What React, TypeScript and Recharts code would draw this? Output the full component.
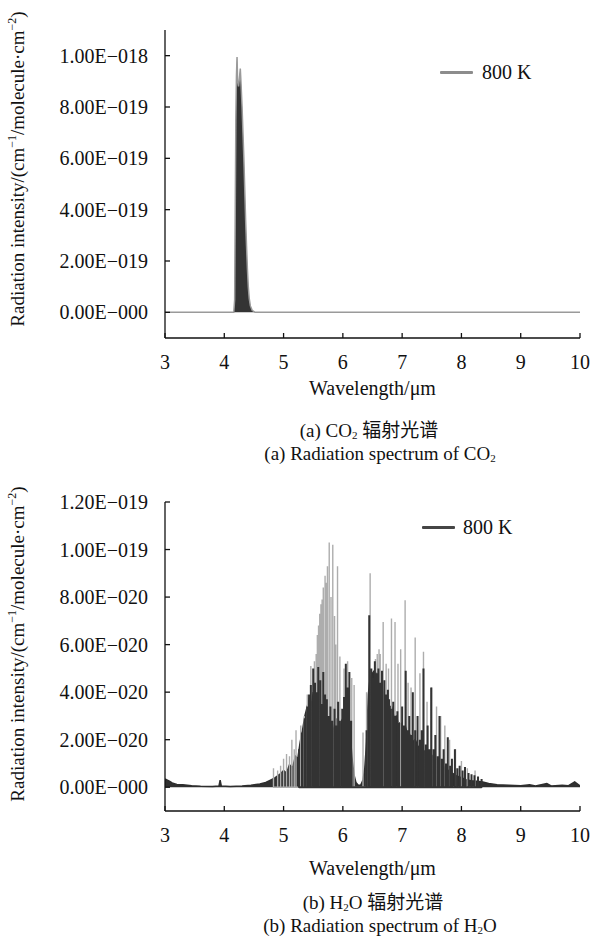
import React from 'react';
import { ComposedChart, Area, Line, XAxis, YAxis, Legend } from 'recharts';

// shared wavelength axis (μm)
const WAVE_TICKS = [3, 4, 5, 6, 7, 8, 9, 10];

// (a) CO2 — intensity in units of 1E-19
const CO2_TICKS = [0, 2, 4, 6, 8, 10];
const CO2_TICK_LABELS = ['0.00E−000', '2.00E−019', '4.00E−019', '6.00E−019', '8.00E−019', '1.00E−018'];
const co2Spectrum: [number, number][] = [
  [3.0, 0], [4.0, 0], [4.16, 0], [4.175, 0.5], [4.185, 4], [4.195, 7.5], [4.205, 9.2],
  [4.215, 9.95], [4.225, 9.0], [4.24, 8.8], [4.255, 9.1], [4.27, 9.5], [4.285, 8.8],
  [4.3, 8.0], [4.315, 7.0], [4.33, 6.0], [4.345, 4.8], [4.36, 3.6], [4.375, 2.6],
  [4.39, 1.7], [4.405, 1.0], [4.42, 0.55], [4.44, 0.25], [4.47, 0.08], [4.52, 0], [10, 0],
];

// (b) H2O — intensity in units of 1E-20
const H2O_TICKS = [0, 2, 4, 6, 8, 10, 12];
const H2O_TICK_LABELS = ['0.00E−000', '2.00E−020', '4.00E−020', '6.00E−020', '8.00E−020', '1.00E−019', '1.20E−019'];

// dense dark body of the band
const h2oBand: [number, number][] = [
  [3.0, 0.35], [3.04, 0.3], [3.08, 0.25], [3.12, 0.18], [3.2, 0.12], [3.3, 0.1], [3.45, 0.06],
  [3.6, 0.04], [3.8, 0.03], [3.91, 0.05], [3.93, 0.3], [3.95, 0.05], [4.1, 0.03], [4.3, 0.05],
  [4.45, 0.08], [4.6, 0.14], [4.7, 0.2], [4.78, 0.3], [4.86, 0.4], [4.94, 0.55], [5.0, 0.7],
  [5.05, 0.6], [5.1, 0.95], [5.15, 0.8], [5.2, 1.3], [5.24, 1.2], [5.28, 1.9], [5.32, 2.4],
  [5.36, 3.0], [5.4, 3.4], [5.44, 3.8], [5.47, 3.4], [5.5, 4.0], [5.53, 3.5], [5.56, 3.8],
  [5.6, 3.0], [5.63, 3.4], [5.66, 2.8], [5.69, 3.2], [5.72, 2.5], [5.75, 2.9], [5.78, 2.3],
  [5.82, 2.7], [5.86, 2.2], [5.9, 2.9], [5.94, 2.4], [5.98, 2.8], [6.02, 3.0], [6.06, 3.3],
  [6.1, 2.7], [6.13, 2.0], [6.16, 1.1], [6.19, 0.5], [6.22, 0.2], [6.26, 0.08], [6.3, 0.08],
  [6.34, 0.3], [6.37, 0.8], [6.4, 1.9], [6.43, 3.9], [6.46, 4.6], [6.5, 4.8], [6.53, 4.9],
  [6.56, 4.8], [6.6, 4.5], [6.63, 4.2], [6.66, 4.2], [6.7, 3.8], [6.74, 3.8], [6.78, 3.4],
  [6.82, 3.4], [6.86, 3.0], [6.9, 3.0], [6.94, 2.7], [6.98, 2.7], [7.02, 2.4], [7.06, 2.5],
  [7.1, 2.1], [7.14, 2.2], [7.18, 1.9], [7.22, 2.0], [7.27, 1.7], [7.32, 1.7], [7.38, 1.5],
  [7.44, 1.4], [7.5, 1.35], [7.56, 1.1], [7.62, 1.05], [7.68, 0.9], [7.74, 0.8], [7.8, 0.65],
  [7.86, 0.57], [7.92, 0.47], [8.0, 0.4], [8.08, 0.32], [8.16, 0.27], [8.26, 0.25], [8.36, 0.22],
  [8.46, 0.16], [8.6, 0.1], [8.8, 0.08], [9.0, 0.06], [9.15, 0.1], [9.25, 0.05], [9.44, 0.16],
  [9.52, 0.05], [9.7, 0.08], [9.8, 0.06], [9.91, 0.22], [10.0, 0.05],
];

// strong (dark) individual lines
const h2oDarkLines: [number, number][] = [
  [5.26, 1.6], [5.31, 2.3], [5.36, 2.9], [5.4, 3.4], [5.43, 3.9], [5.46, 4.3], [5.5, 5.0],
  [5.53, 4.4], [5.56, 4.0], [5.585, 5.06], [5.62, 4.5], [5.65, 3.5], [5.67, 4.85], [5.7, 3.9],
  [5.73, 3.7], [5.76, 3.0], [5.79, 3.4], [5.82, 2.8], [5.86, 3.3], [5.89, 2.6], [5.92, 3.6],
  [5.95, 2.8], [5.99, 3.3], [6.02, 3.8], [6.05, 5.2], [6.08, 4.2], [6.11, 4.85], [6.14, 2.8],
  [6.4, 2.4], [6.445, 7.24], [6.48, 5.0], [6.51, 4.6], [6.54, 5.3], [6.57, 4.8], [6.6, 5.0],
  [6.63, 4.4], [6.66, 4.9], [6.7, 4.5], [6.73, 3.9], [6.76, 4.1], [6.78, 3.7], [6.81, 3.3],
  [6.85, 3.6], [6.88, 3.0], [6.92, 3.2], [6.95, 2.7], [7.0, 3.4], [7.03, 2.6], [7.06, 4.9],
  [7.09, 2.4], [7.12, 3.0], [7.15, 2.2], [7.18, 4.0], [7.22, 2.4], [7.26, 3.0], [7.3, 2.0],
  [7.33, 2.4], [7.36, 5.0], [7.4, 1.8], [7.43, 2.6], [7.46, 1.6], [7.49, 4.2], [7.53, 1.6],
  [7.56, 2.2], [7.6, 1.3], [7.63, 3.0], [7.67, 1.2], [7.7, 1.6], [7.74, 1.0], [7.77, 2.1],
  [7.81, 0.9], [7.84, 1.2], [7.89, 1.6], [7.93, 0.8], [7.97, 0.9], [8.02, 0.7], [8.06, 0.85],
  [8.12, 0.6], [8.17, 0.55], [8.22, 0.5], [8.28, 0.45], [8.34, 0.35],
];

// faint (grey) tall lines
const h2oGreyLines: [number, number][] = [
  [4.83, 0.8], [4.9, 0.7], [4.95, 0.9], [5.0, 1.2], [5.05, 1.4], [5.1, 1.3], [5.14, 2.0],
  [5.18, 1.6], [5.21, 2.4], [5.29, 2.6], [5.35, 3.0], [5.4, 3.9], [5.46, 5.1], [5.52, 5.3],
  [5.55, 5.6], [5.57, 6.4], [5.59, 6.8], [5.61, 7.3], [5.63, 7.7], [5.65, 7.9], [5.67, 8.4],
  [5.7, 8.9], [5.72, 8.6], [5.74, 9.3], [5.77, 10.3], [5.8, 8.0], [5.83, 10.2], [5.86, 7.2],
  [5.88, 6.0], [5.91, 9.3], [5.95, 5.5], [6.02, 5.0], [6.08, 5.3], [6.15, 4.6], [6.19, 4.3],
  [6.34, 2.3], [6.4, 4.0], [6.46, 9.0], [6.55, 5.4], [6.58, 5.6], [6.61, 5.8], [6.63, 5.6],
  [6.68, 6.95], [6.73, 5.2], [6.77, 5.0], [6.82, 7.1], [6.88, 6.95], [6.93, 5.2], [6.975, 5.8],
  [7.05, 7.87], [7.1, 4.4], [7.15, 4.2], [7.22, 6.3], [7.3, 4.8], [7.36, 5.7], [7.42, 3.6],
  [7.5, 4.2], [7.58, 3.4], [7.65, 3.0], [7.72, 2.6], [7.8, 2.0], [7.9, 1.6], [8.0, 1.1],
  [8.1, 0.8], [8.23, 0.7],
];

const SERIF = "'Liberation Serif', 'Times New Roman', Times, 'DejaVu Serif', serif, 'Noto Sans CJK SC'";
const INK = '#111';

const toRows = (pts: [number, number][]) => pts.map(([x, y]) => ({ x, y }));
// each spectral line drawn as a vertical stroke up from the baseline
const toSpikes = (pts: [number, number][]) =>
  pts.flatMap(([x, y]) => [{ x, y: 0 }, { x, y }, { x, y: 0 }]);

const XTick = (props: any) => {
  const { x, y, payload } = props;
  return (
    <g>
      <line x1={x} y1={y} x2={x} y2={y - 5} stroke={INK} strokeWidth={1.3} />
      <text x={x} y={y + 24} textAnchor="middle" dominantBaseline="central" style={{ fontFamily: SERIF, fontSize: 20 }} fill={INK}>
        {payload.value}
      </text>
    </g>
  );
};

const makeYTick = (values: number[], labels: string[]) => (props: any) => {
  const { x, y, payload } = props;
  const label = labels[values.indexOf(payload.value)] ?? '';
  return (
    <g>
      <line x1={x} y1={y} x2={x + 5} y2={y} stroke={INK} strokeWidth={1.3} />
      <text x={x - 17} y={y} textAnchor="end" dominantBaseline="central" style={{ fontFamily: SERIF, fontSize: 20 }} fill={INK}>
        {label}
      </text>
    </g>
  );
};

const LegendKey = ({ color, gap }: { color: string; gap: number }) => (
  <div style={{ display: 'flex', alignItems: 'center', fontFamily: SERIF, fontSize: 20, lineHeight: '24px', color: INK, whiteSpace: 'nowrap' }}>
    <span style={{ display: 'inline-block', width: 33, height: 3, background: color, marginRight: gap, borderRadius: 1 }} />
    <span>800 K</span>
  </div>
);

const CenterText = ({ cx, cy, size = 20, children }: { cx: number; cy: number; size?: number; children: React.ReactNode }) => (
  <div style={{ position: 'absolute', left: cx - 200, top: cy - 9, width: 400, height: 18, lineHeight: '18px', textAlign: 'center', fontSize: size, whiteSpace: 'nowrap' }}>
    {children}
  </div>
);

const Sub = ({ children }: { children: React.ReactNode }) => (
  <span style={{ fontSize: 11, position: 'relative', top: 2, lineHeight: 0 }}>{children}</span>
);
const Sup = ({ children }: { children: React.ReactNode }) => (
  <span style={{ fontSize: 12, position: 'relative', top: -8, lineHeight: 0 }}>{children}</span>
);

const YTitle = ({ cx, cy }: { cx: number; cy: number }) => (
  <div style={{ position: 'absolute', left: cx - 200, top: cy - 12, width: 400, height: 24, lineHeight: '24px', textAlign: 'center', fontSize: 19, whiteSpace: 'nowrap', transform: 'rotate(-90deg)' }}>
    Radiation intensity/(cm<Sup>−1</Sup>/molecule·cm<Sup>−2</Sup>)
  </div>
);

const axisLine = { stroke: INK, strokeWidth: 1.3 };

const Co2Chart = () => (
  <ComposedChart width={593} height={400} margin={{ top: 30, right: 13, bottom: 22, left: 35 }}>
    <XAxis dataKey="x" type="number" domain={[3, 10]} ticks={WAVE_TICKS} interval={0} allowDataOverflow
      tick={<XTick />} tickLine={false} tickSize={0} tickMargin={0} axisLine={axisLine} height={40} />
    <YAxis type="number" domain={[-1, 11]} ticks={CO2_TICKS} interval={0} allowDataOverflow
      tick={makeYTick(CO2_TICKS, CO2_TICK_LABELS)} tickLine={false} tickSize={0} tickMargin={0} axisLine={axisLine} width={130} />
    <Area data={toRows(co2Spectrum)} dataKey="y" name="800 K" type="linear" baseValue={0}
      stroke="#9a9a9a" strokeWidth={1.5} fill="#343434" fillOpacity={1} dot={false} activeDot={false} isAnimationActive={false} />
    <Legend layout="vertical" verticalAlign="middle" align="center" wrapperStyle={{ left: 440, top: 60, width: 'auto' }}
      content={() => <LegendKey color="#8c8c8c" gap={9} />} />
  </ComposedChart>
);

const H2oChart = () => (
  <ComposedChart width={593} height={400} margin={{ top: 32, right: 13, bottom: 19, left: 35 }}>
    <XAxis dataKey="x" type="number" domain={[3, 10]} ticks={WAVE_TICKS} interval={0} allowDataOverflow
      tick={<XTick />} tickLine={false} tickSize={0} tickMargin={0} axisLine={axisLine} height={40} />
    <YAxis type="number" domain={[-1, 12]} ticks={H2O_TICKS} interval={0} allowDataOverflow
      tick={makeYTick(H2O_TICKS, H2O_TICK_LABELS)} tickLine={false} tickSize={0} tickMargin={0} axisLine={axisLine} width={130} />
    <Line data={toSpikes(h2oGreyLines)} dataKey="y" type="linear" stroke="#adadad" strokeWidth={1.4}
      strokeLinejoin="bevel" dot={false} activeDot={false} legendType="none" isAnimationActive={false} />
    <Area data={toRows(h2oBand)} dataKey="y" name="800 K" type="linear" baseValue={0}
      stroke="#2e2e2e" strokeWidth={1.5} fill="#303030" fillOpacity={1} dot={false} activeDot={false} isAnimationActive={false} />
    <Line data={toSpikes(h2oDarkLines)} dataKey="y" type="linear" stroke="#333" strokeWidth={2}
      strokeLinejoin="bevel" dot={false} activeDot={false} legendType="none" isAnimationActive={false} />
    <Legend layout="vertical" verticalAlign="middle" align="center" wrapperStyle={{ left: 422, top: 45, width: 'auto' }}
      content={() => <LegendKey color="#454545" gap={8} />} />
  </ComposedChart>
);

export default function App() {
  return (
    <div style={{ position: 'absolute', left: 0, top: 0, width: 593, height: 943, background: '#fff', fontFamily: SERIF, color: INK, overflow: 'hidden' }}>
      <div style={{ position: 'absolute', left: 0, top: 0 }}>
        <Co2Chart />
      </div>
      <div style={{ position: 'absolute', left: 0, top: 470 }}>
        <H2oChart />
      </div>

      <YTitle cx={18} cy={169} />
      <CenterText cx={372.5} cy={388}>Wavelength/μm</CenterText>
      <CenterText cx={369} cy={431} size={19}>(a) CO<Sub>2</Sub> 辐射光谱</CenterText>
      <CenterText cx={380} cy={454} size={19}>(a) Radiation spectrum of CO<Sub>2</Sub></CenterText>

      <YTitle cx={18} cy={644} />
      <CenterText cx={372.5} cy={868}>Wavelength/μm</CenterText>
      <CenterText cx={373} cy={903} size={19}>(b) H<Sub>2</Sub>O 辐射光谱</CenterText>
      <CenterText cx={380} cy={926} size={19}>(b) Radiation spectrum of H<Sub>2</Sub>O</CenterText>
    </div>
  );
}
